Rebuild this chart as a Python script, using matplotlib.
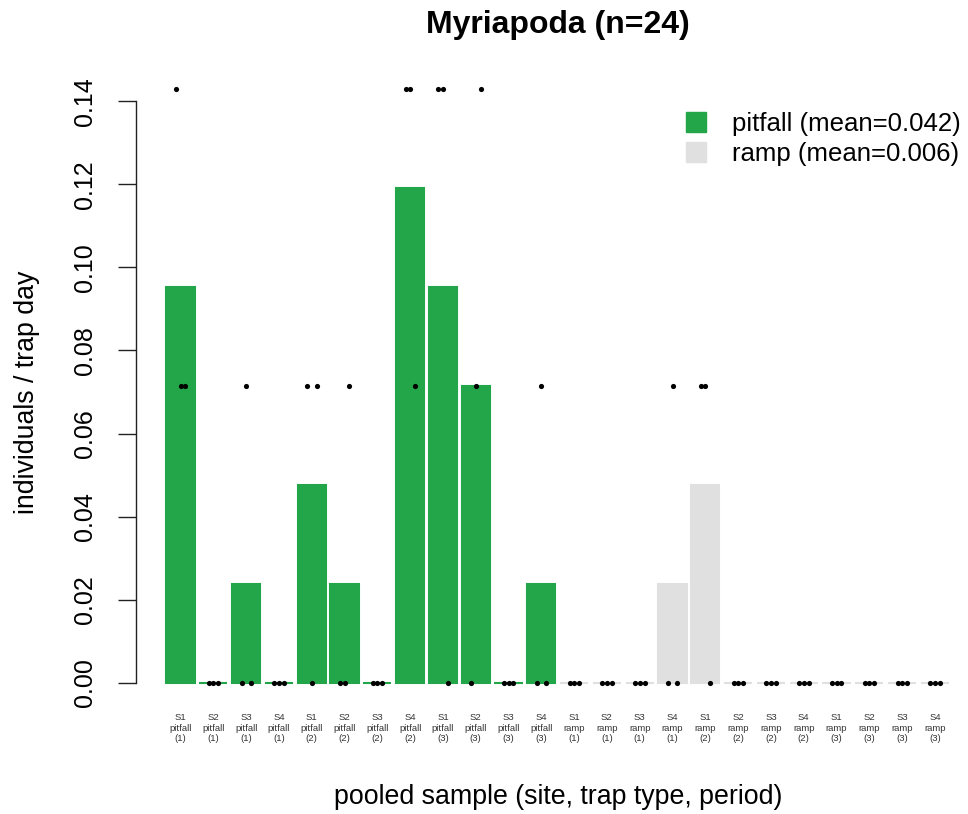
import matplotlib
matplotlib.use("Agg")
import matplotlib.pyplot as plt
from matplotlib.patches import Patch
import numpy as np

plt.rcParams['font.family'] = ['Liberation Sans', 'DejaVu Sans']

sites = ["S1", "S2", "S3", "S4"] * 6
trap_types = ["pitfall"] * 12 + ["ramp"] * 12
periods = ([1] * 4 + [2] * 4 + [3] * 4) * 2

# bar heights (mean individuals / trap day)
bar_values = [0.0952, 0.0, 0.0238, 0.0, 0.0476, 0.0238, 0.0, 0.1190,
              0.0952, 0.0714, 0.0, 0.0238,
              0.0, 0.0, 0.0, 0.0238, 0.0476, 0.0, 0.0, 0.0,
              0.0, 0.0, 0.0, 0.0]

# individual trap values (left, middle, right dots) per pooled sample
trap_left = [0.1429, 0, 0, 0, 0.0714, 0, 0, 0.1429, 0.1429, 0, 0, 0,
             0, 0, 0, 0, 0.0714, 0, 0, 0, 0, 0, 0, 0]
trap_mid = [0.0714, 0, 0.0714, 0, 0, 0, 0, 0.1429, 0.1429, 0.0714, 0, 0.0714,
            0, 0, 0, 0.0714, 0.0714, 0, 0, 0, 0, 0, 0, 0]
trap_right = [0.0714, 0, 0, 0, 0.0714, 0.0714, 0, 0.0714, 0, 0.1429, 0, 0,
              0, 0, 0, 0, 0, 0, 0, 0, 0, 0, 0, 0]

legend_labels = ["pitfall (mean=0.042)", "ramp (mean=0.006)"]
y_ticks = [0.00, 0.02, 0.04, 0.06, 0.08, 0.10, 0.12, 0.14]

GREEN = "#23A64A"
GRAY = "#E0E0E0"

W, H = 968, 814
fig = plt.figure(figsize=(W / 100, H / 100), dpi=100)
ax_left, ax_right = 136, 962
ax_top, ax_bot = 78, 706
ax = fig.add_axes([ax_left / W, (H - ax_bot) / H,
                   (ax_right - ax_left) / W, (ax_bot - ax_top) / H])

x = np.arange(len(bar_values))
colors = [GREEN if t == "pitfall" else GRAY for t in trap_types]
ax.bar(x, bar_values, width=0.86, color=colors, edgecolor=colors,
       linewidth=1.5, zorder=1)

jit = [-0.14, 0.0, 0.15]
for off, vals in zip(jit, [trap_left, trap_mid, trap_right]):
    ax.scatter(x + off, vals, s=14, color="black", zorder=3, linewidths=0)

ax.set_xlim((136 - 180.5) / 32.8, (962 - 180.5) / 32.8)
ax.set_ylim(-0.0056, 0.1456)

for s in ["top", "right", "bottom"]:
    ax.spines[s].set_visible(False)
ax.spines["left"].set_bounds(0, 0.14)
ax.spines["left"].set_linewidth(1.0)
ax.spines["left"].set_color("#222222")

ax.set_yticks(y_ticks)
ax.set_yticklabels([f"{v:.2f}" for v in y_ticks], rotation=90, va="center",
                   fontsize=18)
ax.tick_params(axis="y", length=13, width=1.0, pad=15, color="#222222")

xt_labels = [f"{s}\n{t}\n({p})" for s, t, p in zip(sites, trap_types, periods)]
ax.set_xticks(x)
ax.set_xticklabels(xt_labels, fontsize=6.8, color="#333333", linespacing=1.25)
ax.tick_params(axis="x", length=0, pad=5)

ax.set_ylabel("individuals / trap day", fontsize=19.3, labelpad=24)
fig.text(558 / W, 1 - 797 / H, "pooled sample (site, trap type, period)",
         fontsize=19.3, ha="center", va="center")
fig.text(558 / W, 1 - 25 / H, "Myriapoda (n=24)", fontsize=23,
         fontweight="bold", ha="center", va="center")

handles = [Patch(facecolor=GREEN, edgecolor=GREEN),
           Patch(facecolor=GRAY, edgecolor=GRAY)]
ax.legend(handles, legend_labels, loc="upper right", frameon=False,
          fontsize=18.5, handlelength=0.8, handleheight=0.8,
          handletextpad=1.0, labelspacing=0.25, borderaxespad=0.3,
          bbox_to_anchor=(1.02, 0.975))

fig.savefig("out.png", dpi=100, facecolor="white")
